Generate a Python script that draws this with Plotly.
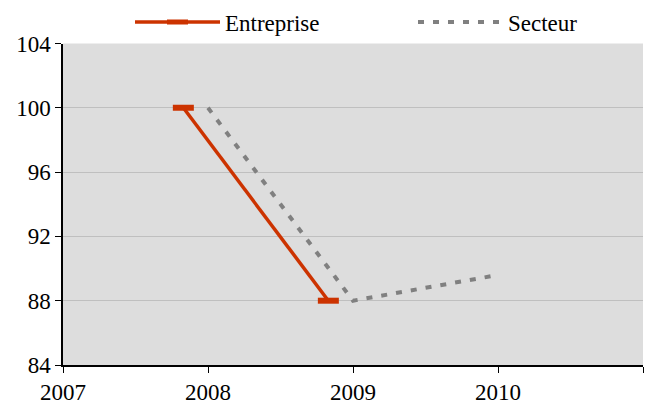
import plotly.graph_objects as go

# Data
ent_x = [2007.83, 2008.83]
ent_y = [100, 88]
sect_x = [2008, 2009, 2010]
sect_y = [100, 88, 89.6]

fig = go.Figure()
fig.add_trace(go.Scatter(x=ent_x, y=ent_y, name='Entreprise', mode='lines+markers',
                         legendwidth=183,
                         line=dict(color='#cc3300', width=3.5),
                         marker=dict(symbol='line-ew-open', size=15,
                                     line=dict(color='#cc3300', width=6))))
fig.add_trace(go.Scatter(x=sect_x, y=sect_y, name='Secteur', mode='lines',
                         line=dict(color='#808080', width=4, dash='6px,9px')))

font = dict(family='Liberation Serif', size=23, color='black')
fig.update_layout(width=664, height=405, margin=dict(l=63, r=21, t=40, b=40),
                  plot_bgcolor='#dddddd', paper_bgcolor='white', font=font,
                  legend=dict(orientation='h', xref='container', x=130/664, xanchor='left',
                              yref='container', y=1 - 22/405, yanchor='middle',
                              font=font, itemwidth=85,
                              bgcolor='rgba(0,0,0,0)'))
fig.update_xaxes(range=[2007, 2011], tickvals=[2007, 2008, 2009, 2010, 2011],
                 showgrid=False, showline=True, linecolor='black', linewidth=1.5,
                 ticks='outside', ticklen=6, tickcolor='black', zeroline=False,
                 automargin=False)
fig.update_yaxes(range=[84, 104], tickvals=[84, 88, 92, 96, 100, 104],
                 showgrid=True, gridcolor='#bfbfbf', gridwidth=1,
                 showline=True, linecolor='black', linewidth=1.5,
                 ticks='outside', ticklen=6, tickcolor='black', zeroline=False,
                 automargin=False)

# the page body has a default 8px margin; drop it so the figure fills the window
fig.write_html("out.html", config={'displayModeBar': False},
               post_script="document.body.style.margin='0';")
